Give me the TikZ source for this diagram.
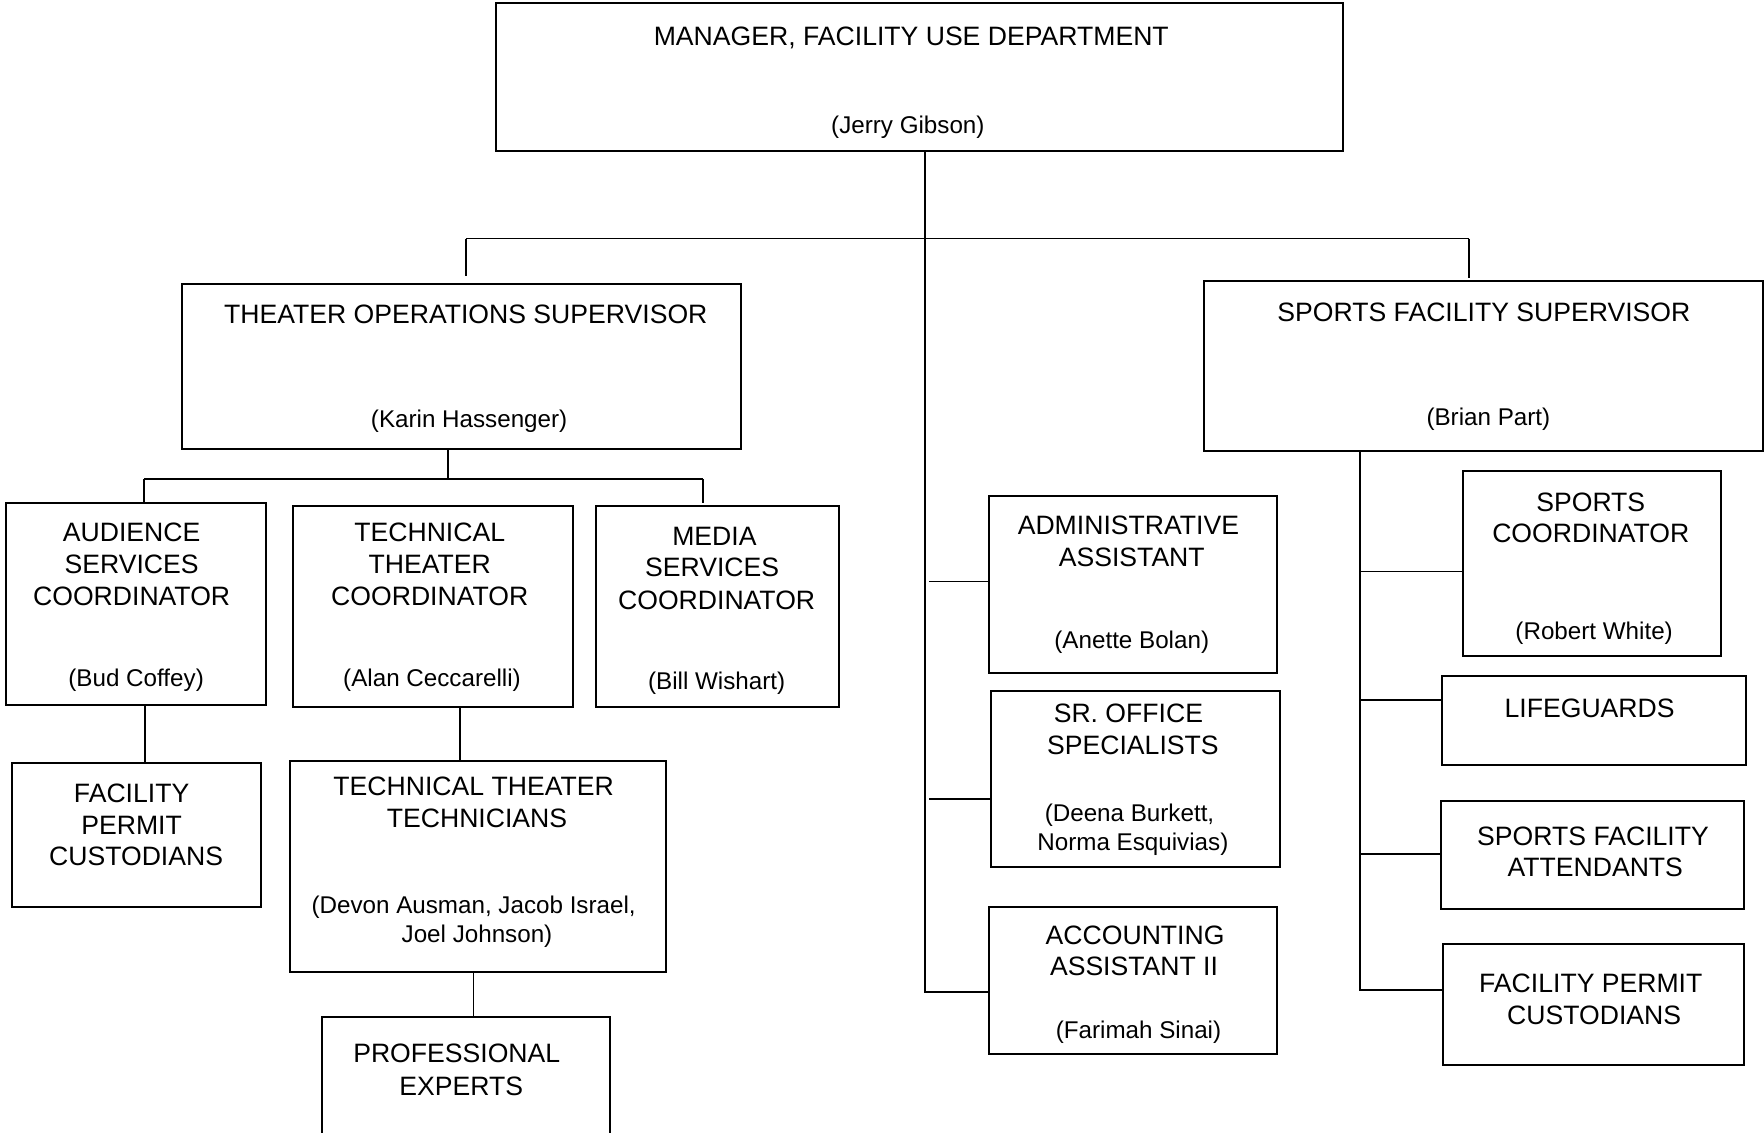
\documentclass[tikz,border=0pt]{standalone}
\usepackage{fontspec}
\setmainfont{Liberation Sans}
\usetikzlibrary{fit}
\tikzset{
  orgbox/.style={draw, line width=1pt, inner sep=0pt},
  conn/.style={line width=0.8pt},
  txt/.style={anchor=base, inner sep=0pt, font=\fontsize{13.3}{15}\selectfont},
  nametxt/.style={anchor=base, inner sep=0pt, font=\fontsize{12.1}{14}\selectfont}
}
\newcommand\orgtxt[4]{\node[txt] (#1) at (#2,#3+8.5) {#4};}
\newcommand\orgname[4]{\node[nametxt] (#1) at (#2,#3+8) {#4};}
\begin{document}
\begin{tikzpicture}[x=0.5625pt,y=-0.5625pt]
\useasboundingbox (0,0) rectangle (1568,1007);
\clip (0,0) rectangle (1568,1007);
\fill[white] (0,0) rectangle (1568,1007);
% boxes
\node[orgbox, fit={(441,3)(1194,134)}] (mgr) {};
\node[orgbox, fit={(162,252)(659,399)}] (tos) {};
\node[orgbox, fit={(1070,250)(1567,401)}] (sfs) {};
\node[orgbox, fit={(5,447)(236,627)}] (aud) {};
\node[orgbox, fit={(260,450)(509,628)}] (ttc) {};
\node[orgbox, fit={(530,450)(746,628)}] (med) {};
\node[orgbox, fit={(11,678)(232,806)}] (fpcl) {};
\node[orgbox, fit={(258,676)(592,864)}] (ttt) {};
\node[orgbox, fit={(286,904)(542,1040)}] (pro) {};
\node[orgbox, fit={(879,441)(1135,598)}] (adm) {};
\node[orgbox, fit={(881,614)(1138,771)}] (sro) {};
\node[orgbox, fit={(879,806)(1135,937)}] (acc) {};
\node[orgbox, fit={(1300,419)(1530,583)}] (spc) {};
\node[orgbox, fit={(1282,601)(1552,680)}] (lif) {};
\node[orgbox, fit={(1281,712)(1550,808)}] (sfa) {};
\node[orgbox, fit={(1283,839)(1550,947)}] (fpcr) {};
% texts
\orgtxt{t1}{810}{32}{MANAGER, FACILITY USE DEPARTMENT}
\orgname{t2}{807}{111}{(Jerry Gibson)}
\orgtxt{t3}{414}{279}{THEATER OPERATIONS SUPERVISOR}
\orgname{t4}{417}{372}{(Karin Hassenger)}
\orgtxt{t5}{1319}{277}{SPORTS FACILITY SUPERVISOR}
\orgname{t6}{1323}{370}{(Brian Part)}
\orgtxt{t7}{117}{473}{AUDIENCE}
\orgtxt{t8}{117}{501}{SERVICES}
\orgtxt{t9}{117}{530}{COORDINATOR}
\orgname{t10}{121}{602}{(Bud Coffey)}
\orgtxt{t11}{382}{473}{TECHNICAL}
\orgtxt{t12}{382}{501}{THEATER}
\orgtxt{t13}{382}{530}{COORDINATOR}
\orgname{t14}{384}{602}{(Alan Ceccarelli)}
\orgtxt{t15}{635}{476}{MEDIA}
\orgtxt{t16}{633}{504}{SERVICES}
\orgtxt{t17}{637}{533}{COORDINATOR}
\orgname{t18}{637}{605}{(Bill Wishart)}
\orgtxt{t19}{117}{705}{FACILITY}
\orgtxt{t20}{117}{733}{PERMIT}
\orgtxt{t21}{121}{761}{CUSTODIANS}
\orgtxt{t22}{421}{699}{TECHNICAL THEATER}
\orgtxt{t23}{424}{727}{TECHNICIANS}
\orgname{t24}{421}{804}{(Devon Ausman, Jacob Israel,}
\orgname{t25}{424}{830}{Joel Johnson)}
\orgtxt{t26}{406}{936}{PROFESSIONAL}
\orgtxt{t27}{410}{965}{EXPERTS}
\orgtxt{t28}{1003}{467}{ADMINISTRATIVE}
\orgtxt{t29}{1006}{495}{ASSISTANT}
\orgname{t30}{1006}{568}{(Anette Bolan)}
\orgtxt{t31}{1003}{634}{SR. OFFICE}
\orgtxt{t32}{1007}{662}{SPECIALISTS}
\orgname{t33}{1004}{722}{(Deena Burkett,}
\orgname{t34}{1007}{748}{Norma Esquivias)}
\orgtxt{t35}{1009}{831}{ACCOUNTING}
\orgtxt{t36}{1008}{859}{ASSISTANT II}
\orgname{t37}{1012}{915}{(Farimah Sinai)}
\orgtxt{t38}{1414}{446}{SPORTS}
\orgtxt{t39}{1414}{474}{COORDINATOR}
\orgname{t40}{1417}{560}{(Robert White)}
\orgtxt{t41}{1413}{629}{LIFEGUARDS}
\orgtxt{t42}{1416}{743}{SPORTS FACILITY}
\orgtxt{t43}{1418}{771}{ATTENDANTS}
\orgtxt{t44}{1414}{874}{FACILITY PERMIT}
\orgtxt{t45}{1417}{902}{CUSTODIANS}
% connector coordinates
\coordinate (trunk) at (822,882);
\coordinate (barL) at (414,212);
\coordinate (barR) at (1306,212);
\coordinate (dropL) at (414,245);
\coordinate (dropR) at (1306,247);
\coordinate (tj) at (398,426);
\coordinate (tL) at (128,426);
\coordinate (tR) at (625,426);
\coordinate (xa) at (129,0);
\coordinate (xt) at (409,0);
\coordinate (xp) at (421,0);
\coordinate (m1) at (826,517);
\coordinate (m2) at (826,710);
\coordinate (rb) at (1209,881);
\coordinate (r1) at (1209,508);
\coordinate (r2) at (1209,622);
\coordinate (r3) at (1209,759);
\coordinate (r4) at (1209,880);
% connectors
\draw[conn] (mgr.south -| trunk) -- (trunk) -- (trunk -| acc.west);
\draw[conn] (barL) -- (barR);
\draw[conn] (barL) -- (dropL);
\draw[conn] (barR) -- (dropR);
\draw[conn] (tos.south -| tj) -- (tj);
\draw[conn] (tL) -- (tR);
\draw[conn] (tL) -- (aud.north -| tL);
\draw[conn] (tR) -- (tR |- 0,447);
\draw[conn] (aud.south -| xa) -- (fpcl.north -| xa);
\draw[conn] (ttc.south -| xt) -- (ttt.north -| xt);
\draw[conn] (ttt.south -| xp) -- (pro.north -| xp);
\draw[conn] (m1) -- (m1 -| adm.west);
\draw[conn] (m2) -- (m2 -| sro.west);
\draw[conn] (sfs.south -| rb) -- (rb);
\draw[conn] (r1) -- (r1 -| spc.west);
\draw[conn] (r2) -- (r2 -| lif.west);
\draw[conn] (r3) -- (r3 -| sfa.west);
\draw[conn] (r4) -- (r4 -| fpcr.west);
\end{tikzpicture}
\end{document}
